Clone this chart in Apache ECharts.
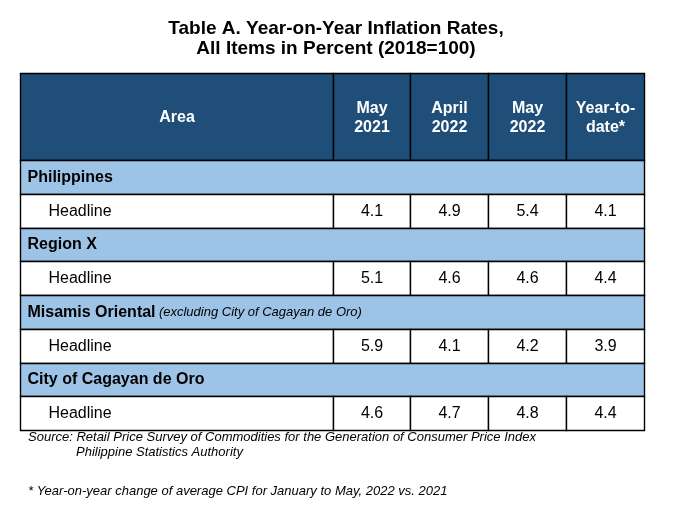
<!DOCTYPE html>
<html><head><meta charset="utf-8">
<script src="https://cdn.jsdelivr.net/npm/echarts@6/dist/echarts.min.js"></script>
<style>html,body{margin:0;padding:0;background:#fff}#c{width:674px;height:518px}</style>
</head><body><div id="c"></div>
<script>
// ---- data ----
const titleLines = ['Table A. Year-on-Year Inflation Rates,', 'All Items in Percent (2018=100)'];
const headerArea = 'Area';
const columnLabels = ['May\n2021', 'April\n2022', 'May\n2022', 'Year-to-\ndate*'];
const areas = ['Philippines', 'Region X', 'Misamis Oriental', 'City of Cagayan de Oro'];
const areaNotes = ['', '', '(excluding City of Cagayan de Oro)', ''];
const indicator = 'Headline';
const may2021 = [4.1, 5.1, 5.9, 4.6];
const april2022 = [4.9, 4.6, 4.1, 4.7];
const may2022 = [5.4, 4.6, 4.2, 4.8];
const yearToDate = [4.1, 4.4, 3.9, 4.4];
const sourceLines = ['Source: Retail Price Survey of Commodities for the Generation of Consumer Price Index', 'Philippine Statistics Authority'];
const footnote = '* Year-on-year change of average CPI for January to May, 2022 vs. 2021';

// ---- layout ----
const FONT = '"Liberation Sans", Arial, sans-serif';
const colWidths = [313, 77, 78, 78, 78];
const headerH = 87, rowH = 33.75;
const colEdges = [0];
colWidths.forEach(w => colEdges.push(colEdges[colEdges.length - 1] + w));
const tableW = colEdges[colEdges.length - 1];
const tableH = headerH + rowH * areas.length * 2;
const DARK = '#1F4E79', LIGHT = '#9DC3E6';

const valueCols = [may2021, april2022, may2022, yearToDate];
const cells = [];
cells.push({x0: 0, x1: colEdges[1], y0: 0, y1: headerH, kind: 'head', text: headerArea});
columnLabels.forEach((t, i) => cells.push({x0: colEdges[i + 1], x1: colEdges[i + 2], y0: 0, y1: headerH, kind: 'head', text: t}));
areas.forEach((a, r) => {
  const yg = headerH + rowH * (2 * r);
  const yh = yg + rowH;
  cells.push({x0: 0, x1: tableW, y0: yg, y1: yh, kind: 'group', text: a, note: areaNotes[r]});
  cells.push({x0: 0, x1: colEdges[1], y0: yh, y1: yh + rowH, kind: 'label', text: indicator});
  valueCols.forEach((col, i) => cells.push({x0: colEdges[i + 1], x1: colEdges[i + 2], y0: yh, y1: yh + rowH, kind: 'value', text: col[r].toFixed(1)}));
});

function renderItem(params, api) {
  const c = cells[params.dataIndex];
  const p0 = api.coord([c.x0, c.y0]);
  const p1 = api.coord([c.x1, c.y1]);
  const x = Math.round(p0[0]) + 0.5, y = Math.round(p0[1]) + 0.5;
  const w = Math.round(p1[0]) - Math.round(p0[0]), h = Math.round(p1[1]) - Math.round(p0[1]);
  const fill = c.kind === 'head' ? DARK : (c.kind === 'group' ? LIGHT : '#fff');
  const children = [{type: 'rect', shape: {x, y, width: w, height: h}, style: {fill, stroke: '#000', lineWidth: 1.4}}];
  let ts;
  if (c.kind === 'head') {
    ts = {text: c.text, fill: '#fff', font: 'bold 16px ' + FONT, align: 'center', verticalAlign: 'middle', lineHeight: 19};
    children.push({type: 'text', x: x + w / 2, y: y + h / 2 + 1, style: ts});
  } else if (c.kind === 'group') {
    const txt = c.note ? '{b|' + c.text + '} {i|' + c.note + '}' : '{b|' + c.text + '}';
    ts = {text: txt, align: 'left', verticalAlign: 'middle',
      rich: {b: {font: 'bold 16px ' + FONT, fill: '#000'}, i: {font: 'italic 13px ' + FONT, fill: '#000'}}};
    children.push({type: 'text', x: x + 7, y: y + h / 2, style: ts});
  } else if (c.kind === 'label') {
    ts = {text: c.text, fill: '#000', font: '16px ' + FONT, align: 'left', verticalAlign: 'middle'};
    children.push({type: 'text', x: x + 28, y: y + h / 2, style: ts});
  } else {
    ts = {text: c.text, fill: '#000', font: '16px ' + FONT, align: 'center', verticalAlign: 'middle'};
    children.push({type: 'text', x: x + w / 2, y: y + h / 2, style: ts});
  }
  return {type: 'group', children};
}

const chart = echarts.init(document.getElementById('c'), null, {renderer: 'canvas'});
chart.setOption({
  animation: false,
  backgroundColor: '#fff',
  grid: {left: 20, top: 73, width: tableW, height: tableH},
  xAxis: {type: 'value', min: 0, max: tableW, show: false},
  yAxis: {type: 'value', min: 0, max: tableH, inverse: true, show: false},
  series: [{
    type: 'custom',
    renderItem,
    clip: false,
    data: cells.map(c => [c.x0, c.y0, c.x1, c.y1]),
    encode: {x: [0, 2], y: [1, 3]}
  }],
  graphic: [
    {type: 'text', x: 336, y: 19, style: {text: titleLines.join('\n'), font: 'bold 19px ' + FONT, fill: '#000', align: 'center', lineHeight: 20}},
    {type: 'text', left: 28, top: 431, style: {text: sourceLines[0], font: 'italic 13px ' + FONT, fill: '#000'}},
    {type: 'text', left: 76, top: 446, style: {text: sourceLines[1], font: 'italic 13px ' + FONT, fill: '#000'}},
    {type: 'text', left: 28, top: 485, style: {text: footnote, font: 'italic 13px ' + FONT, fill: '#000'}}
  ]
});
</script></body></html>
